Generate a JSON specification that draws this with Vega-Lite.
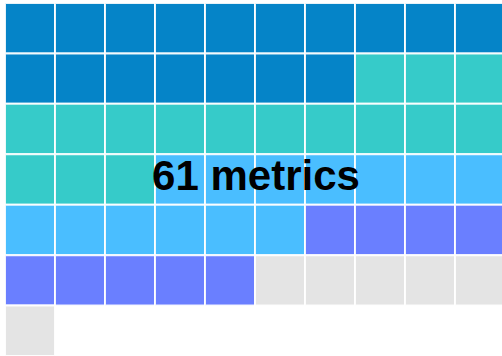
{
  "$schema": "https://vega.github.io/schema/vega-lite/v6.json",
  "width": 502,
  "height": 356,
  "padding": 0,
  "autosize": "none",
  "background": "white",
  "config": {"view": {"stroke": null}},
  "layer": [
    {
      "data": {"values": [
        {"col":0,"row":0,"group":"A"},{"col":1,"row":0,"group":"A"},{"col":2,"row":0,"group":"A"},{"col":3,"row":0,"group":"A"},{"col":4,"row":0,"group":"A"},{"col":5,"row":0,"group":"A"},{"col":6,"row":0,"group":"A"},{"col":7,"row":0,"group":"A"},{"col":8,"row":0,"group":"A"},{"col":9,"row":0,"group":"A"},
        {"col":0,"row":1,"group":"A"},{"col":1,"row":1,"group":"A"},{"col":2,"row":1,"group":"A"},{"col":3,"row":1,"group":"A"},{"col":4,"row":1,"group":"A"},{"col":5,"row":1,"group":"A"},{"col":6,"row":1,"group":"A"},{"col":7,"row":1,"group":"B"},{"col":8,"row":1,"group":"B"},{"col":9,"row":1,"group":"B"},
        {"col":0,"row":2,"group":"B"},{"col":1,"row":2,"group":"B"},{"col":2,"row":2,"group":"B"},{"col":3,"row":2,"group":"B"},{"col":4,"row":2,"group":"B"},{"col":5,"row":2,"group":"B"},{"col":6,"row":2,"group":"B"},{"col":7,"row":2,"group":"B"},{"col":8,"row":2,"group":"B"},{"col":9,"row":2,"group":"B"},
        {"col":0,"row":3,"group":"B"},{"col":1,"row":3,"group":"B"},{"col":2,"row":3,"group":"B"},{"col":3,"row":3,"group":"C"},{"col":4,"row":3,"group":"C"},{"col":5,"row":3,"group":"C"},{"col":6,"row":3,"group":"C"},{"col":7,"row":3,"group":"C"},{"col":8,"row":3,"group":"C"},{"col":9,"row":3,"group":"C"},
        {"col":0,"row":4,"group":"C"},{"col":1,"row":4,"group":"C"},{"col":2,"row":4,"group":"C"},{"col":3,"row":4,"group":"C"},{"col":4,"row":4,"group":"C"},{"col":5,"row":4,"group":"C"},{"col":6,"row":4,"group":"D"},{"col":7,"row":4,"group":"D"},{"col":8,"row":4,"group":"D"},{"col":9,"row":4,"group":"D"},
        {"col":0,"row":5,"group":"D"},{"col":1,"row":5,"group":"D"},{"col":2,"row":5,"group":"D"},{"col":3,"row":5,"group":"D"},{"col":4,"row":5,"group":"D"},{"col":5,"row":5,"group":"E"},{"col":6,"row":5,"group":"E"},{"col":7,"row":5,"group":"E"},{"col":8,"row":5,"group":"E"},{"col":9,"row":5,"group":"E"},
        {"col":0,"row":6,"group":"E"}
      ]},
      "mark": {"type": "rect", "stroke": "white", "strokeWidth": 2, "strokeOpacity": 0.9},
      "encoding": {
        "x": {"field": "col", "type": "ordinal", "axis": null, "scale": {"domain": [0,1,2,3,4,5,6,7,8,9], "range": [5, 505], "paddingInner": 0, "paddingOuter": 0}},
        "y": {"field": "row", "type": "ordinal", "axis": null, "scale": {"domain": [0,1,2,3,4,5,6], "range": [3, 356], "paddingInner": 0, "paddingOuter": 0}},
        "color": {"field": "group", "type": "nominal", "legend": null, "scale": {"domain": ["A","B","C","D","E"], "range": ["#0584C8", "#36CBC9", "#4ABEFF", "#6A7FFF", "#E4E4E4"]}}
      }
    },
    {
      "data": {"values": [{"label": "61 metrics"}]},
      "mark": {"type": "text", "font": "Liberation Sans", "fontWeight": "bold", "fontSize": 42, "align": "center", "baseline": "alphabetic", "color": "black", "dx": -24, "dy": 10},
      "encoding": {
        "x": {"datum": 5, "type": "ordinal"},
        "y": {"datum": 3, "type": "ordinal"},
        "text": {"field": "label"}
      }
    }
  ]
}
